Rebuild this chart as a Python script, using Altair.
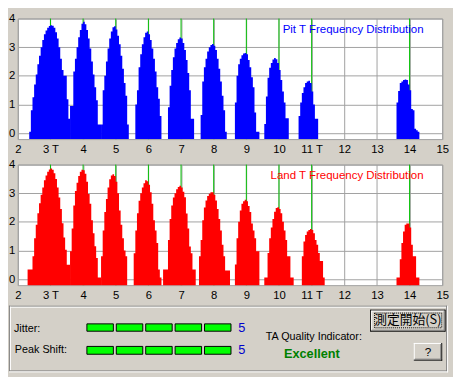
import altair as alt
import pandas as pd

# ---------------- data ----------------
BIN = 0.05  # histogram bin width in T

t_ticks = [2, 3, 4, 5, 6, 7, 8, 9, 10, 11, 12, 13, 14, 15]
t_suffixed = [3, 11]
t_run_lengths = [3, 4, 5, 6, 7, 8, 9, 10, 11, 14]
y_ticks = [0, 1, 2, 3, 4]

pit_starts = [2.35, 3.60, 4.55, 5.60, 6.60, 7.60, 8.65, 9.55, 10.60, 13.60]
pit_3t = [0.05, 0.8, 1.25, 1.7, 2.05, 2.4, 2.7, 3.0, 3.25, 3.45, 3.58, 3.68, 3.74, 3.77, 3.75, 3.68, 3.52, 3.3, 3.0, 2.6, 2.2, 2.0, 2.0, 1.18, 0.5]
pit_4t = [0.95, 0.95, 2.15, 2.6, 3.0, 3.35, 3.6, 3.82, 3.89, 3.8, 3.6, 3.3, 2.95, 2.5, 2.05, 1.6, 1.15, 0.3, 0.3]
pit_5t = [0.3, 1.5, 2.0, 2.5, 2.95, 3.3, 3.55, 3.7, 3.73, 3.62, 3.4, 3.1, 2.7, 2.25, 1.75, 1.3, 0.3]
pit_6t = [1.0, 1.5, 2.3, 2.75, 3.1, 3.35, 3.5, 3.55, 3.45, 3.25, 2.95, 2.6, 2.15, 1.6, 1.2, 0.6]
pit_7t = [0.9, 1.65, 2.2, 2.65, 2.95, 3.15, 3.28, 3.34, 3.3, 3.15, 2.9, 2.55, 2.1, 1.5, 0.5, 0.5]
pit_8t = [0.63, 1.8, 2.3, 2.6, 2.85, 3.0, 3.08, 3.11, 3.05, 2.9, 2.6, 2.25, 1.8, 1.3, 0.8, 0.05]
pit_9t = [1.07, 2.0, 2.4, 2.6, 2.72, 2.78, 2.8, 2.75, 2.55, 2.3, 1.95, 1.6, 0.72, 0.05, 0.05]
pit_10t = [0.32, 1.28, 1.93, 2.28, 2.45, 2.57, 2.62, 2.58, 2.45, 2.2, 1.85, 1.45, 1.07, 0.52, 0.52]
pit_11t = [0.6, 1.07, 1.4, 1.6, 1.75, 1.8, 1.83, 1.75, 1.45, 1.0, 0.5, 0.5]
pit_14t = [1.07, 1.47, 1.75, 1.8, 1.85, 1.87, 1.85, 1.7, 1.5, 0.84, 0.8, 0.15, 0.1, 0.05]

land_starts = [2.30, 3.60, 4.55, 5.55, 6.45, 7.55, 8.65, 9.55, 10.70, 13.60]
land_3t = [0.34, 0.34, 0.34, 0.8, 1.43, 1.9, 2.3, 2.65, 2.95, 3.2, 3.45, 3.62, 3.75, 3.83, 3.86, 3.82, 3.7, 3.5, 3.2, 2.85, 2.45, 1.95, 1.45, 1.03, 0.5, 0.5]
land_4t = [0.97, 1.77, 2.57, 3.08, 3.37, 3.6, 3.75, 3.82, 3.8, 3.68, 3.4, 2.97, 2.63, 2.06, 1.6, 1.15, 0.74, 0.06, 0.06]
land_5t = [0.8, 1.7, 2.34, 2.8, 3.2, 3.49, 3.62, 3.66, 3.6, 3.4, 3.0, 2.4, 1.9, 1.43, 1.0, 0.8]
land_6t = [0.9, 1.7, 2.3, 2.74, 3.0, 3.2, 3.35, 3.45, 3.42, 3.3, 3.03, 2.63, 2.06, 1.7, 1.26, 0.34, 0.06]
land_7t = [0.34, 0.34, 0.34, 1.37, 2.1, 2.57, 2.85, 3.0, 3.14, 3.22, 3.26, 3.2, 3.05, 2.86, 2.29, 1.77, 1.14, 0.9, 0.34, 0.34]
land_8t = [0.8, 1.37, 2.06, 2.5, 2.75, 2.9, 2.98, 3.03, 3.03, 2.95, 2.75, 2.45, 2.1, 1.7, 1.2, 0.8, 0.3, 0.3, 0.3]
land_9t = [0.51, 1.43, 2.0, 2.4, 2.63, 2.72, 2.77, 2.72, 2.55, 2.34, 1.94, 1.7, 1.43, 0.97, 0.97]
land_10t = [0.06, 0.06, 0.91, 1.43, 1.8, 2.1, 2.35, 2.48, 2.51, 2.45, 2.3, 2.0, 1.7, 1.37, 0.8, 0.8, 0.06, 0.06]
land_11t = [0.8, 1.31, 1.54, 1.66, 1.72, 1.75, 1.72, 1.6, 1.37, 1.2, 0.91, 0.63, 0.63, 0.06]
land_14t = [0.06, 0.06, 0.69, 1.26, 1.66, 1.9, 1.94, 1.94, 1.8, 1.2, 0.8, 0.8, 0.06, 0.06]

pit_title = "Pit T Frequency Distribution"
land_title = "Land T Frequency Distribution"

jitter_label = "Jitter:"
peak_label = "Peak Shift:"
jitter_score = 5
peak_shift_score = 5
score_max = 5
quality_label = "TA Quality Indicator:"
quality_value = "Excellent"
start_button = "測定開始(S)"
help_button = "?"

# ---------------- styling ----------------
BG = "#D4D0C8"
GRID = "#A0A0A0"
GREEN = "#00C000"
FONT = "Liberation Sans"
PW, PH = 433, 123


def hist_frame(starts, peaks):
    """Step outline per peak: each bin's left edge, plus the final right edge."""
    rows = []
    for k, (s, vals) in enumerate(zip(starts, peaks)):
        for i, v in enumerate(vals):
            rows.append({"peak": k, "t": round(s + i * BIN, 4), "v": v})
        rows.append({"peak": k, "t": round(s + len(vals) * BIN, 4), "v": vals[-1]})
    return pd.DataFrame(rows)


pit_df = hist_frame(pit_starts, [pit_3t, pit_4t, pit_5t, pit_6t, pit_7t, pit_8t, pit_9t, pit_10t, pit_11t, pit_14t])
land_df = hist_frame(land_starts, [land_3t, land_4t, land_5t, land_6t, land_7t, land_8t, land_9t, land_10t, land_11t, land_14t])

xs = alt.Scale(domain=[2, 15], nice=False, zero=False)
ys = alt.Scale(domain=[-0.21, 4], nice=False, zero=False)

label_expr = (" || ".join("datum.value == %d" % v for v in t_suffixed) +
              " ? datum.label + ' T' : datum.label")

x_axis = alt.Axis(values=t_ticks, grid=True, gridColor=GRID, gridOpacity=1, domain=False,
                  ticks=False, labels=True, labelPadding=5, labelFont=FONT, labelFontSize=11.5,
                  labelColor="black", title=None, labelExpr=label_expr, labelFlush=False,
                  labelOverlap=False, labelBound=False, format="d", orient="bottom")
y_axis = alt.Axis(values=y_ticks, grid=True, gridColor=GRID, gridOpacity=1, domain=False,
                  ticks=False, labelPadding=3, labelFont=FONT, labelFontSize=11.5,
                  labelColor="black", title=None, format="d")


def panel(df, color, title):
    rules = alt.Chart(pd.DataFrame({"t": t_run_lengths})).mark_rule(
        color=GREEN, strokeWidth=1).encode(x=alt.X("t:Q", scale=xs, axis=x_axis))
    hist = alt.Chart(df).mark_area(interpolate="step-after", color=color, opacity=1).encode(
        x=alt.X("t:Q", scale=xs, axis=x_axis),
        y=alt.Y("v:Q", scale=ys, axis=y_axis),
        y2=alt.datum(-0.21),
        detail="peak:N",
    )
    label = alt.Chart(pd.DataFrame({"s": [title]})).mark_text(
        align="right", baseline="middle", font=FONT, fontSize=11.7, color=color
    ).encode(text="s:N", x=alt.value(414), y=alt.value(11))
    return alt.layer(rules, hist, label).properties(
        width=PW, height=PH, view=alt.ViewBackground(fill="white", stroke=GRID))


top = panel(pit_df, "#0000FF", pit_title)
bottom = panel(land_df, "#FF0000", land_title)

# ---------------- control area (pixel-like scales) ----------------
CX = alt.Scale(domain=[18, 461], nice=False, zero=False)
CY = alt.Scale(domain=[312, 377], nice=False, zero=False, reverse=True)
CW, CH = 443, 65

lines = []


def hline(x1, x2, y, c):
    lines.append({"x": x1, "x2": x2, "y": y, "y2": y, "c": c})


def vline(x, y1, y2, c):
    lines.append({"x": x, "x2": x, "y": y1, "y2": y2, "c": c})


# etched group frame
hline(9, 456, 307.5, "#808080"); vline(9.5, 307, 374, "#808080")
hline(10, 455, 308.5, "white"); vline(10.5, 308, 373, "white")
hline(9, 456, 373.5, "#808080"); vline(455.5, 307, 374, "#808080")
hline(9, 457, 374.5, "white"); vline(456.5, 307, 375, "white")
# default button (start)
hline(378, 454, 311.5, "black"); hline(378, 454, 333, "black")
vline(378, 311, 333.5, "black"); vline(454, 311, 333.5, "black")
hline(379, 453, 312.5, "white"); vline(379, 312, 332, "white")
hline(379, 453, 332, "#808080"); vline(453, 312, 332.5, "#808080")
# help button
hline(422, 451, 345.5, "white"); vline(422.5, 345, 363, "white")
hline(422, 451, 362.5, "black"); vline(450.5, 345, 363, "black")
hline(423, 450, 361.5, "#808080"); vline(449.5, 346, 362, "#808080")
lines_df = pd.DataFrame(lines)

seg_rows = []
for score, ytop, ybot in [(jitter_score, 325.5, 333), (peak_shift_score, 348.5, 356.5)]:
    for i in range(score_max):
        x0 = 88.5 + i * 30
        seg_rows.append({"x": x0, "x2": x0 + 27, "y": ytop, "y2": ybot,
                         "fill": "#00FF00" if i < score else BG})
seg_df = pd.DataFrame(seg_rows)

focus_df = pd.DataFrame([{"x": 382, "x2": 450.5, "y": 314.5, "y2": 329.5}])

enc_xy = dict(x=alt.X("x:Q", scale=CX, axis=None), y=alt.Y("y:Q", scale=CY, axis=None))

line_layer = alt.Chart(lines_df).mark_rule(strokeWidth=1).encode(
    x2="x2:Q", y2="y2:Q", color=alt.Color("c:N", scale=None), **enc_xy)
seg_layer = alt.Chart(seg_df).mark_rect(stroke="black", strokeWidth=1).encode(
    x2="x2:Q", y2="y2:Q", fill=alt.Fill("fill:N", scale=None), **enc_xy)
focus_layer = alt.Chart(focus_df).mark_rect(
    fill="transparent", stroke="black", strokeWidth=1, strokeDash=[1, 1]).encode(
    x2="x2:Q", y2="y2:Q", **enc_xy)

labels_df = pd.DataFrame([
    {"x": 14, "y": 330.5, "s": jitter_label},
    {"x": 15, "y": 352.5, "s": peak_label},
    {"x": 271, "y": 339, "s": quality_label},
])
label_layer = alt.Chart(labels_df).mark_text(
    align="left", baseline="middle", font=FONT, fontSize=11, color="black").encode(
    text="s:N", **enc_xy)

scores_df = pd.DataFrame([
    {"x": 246.5, "y": 329.5, "s": str(jitter_score)},
    {"x": 246.5, "y": 352, "s": str(peak_shift_score)},
])
score_layer = alt.Chart(scores_df).mark_text(
    align="center", baseline="middle", font=FONT, fontSize=13, color="#0000CC").encode(
    text="s:N", **enc_xy)

quality_layer = alt.Chart(pd.DataFrame([{"x": 318, "y": 356, "s": quality_value}])).mark_text(
    align="center", baseline="middle", font=FONT, fontSize=13, fontWeight="bold",
    color="#008000").encode(text="s:N", **enc_xy)

btn_layer = alt.Chart(pd.DataFrame([{"x": 416, "y": 322, "s": start_button}])).mark_text(
    align="center", baseline="middle", font="Noto Sans CJK JP", fontSize=13,
    color="black").encode(text="s:N", **enc_xy)
help_layer = alt.Chart(pd.DataFrame([{"x": 436.5, "y": 354, "s": help_button}])).mark_text(
    align="center", baseline="middle", font=FONT, fontSize=12,
    color="black").encode(text="s:N", **enc_xy)

controls = alt.layer(line_layer, seg_layer, focus_layer, label_layer, score_layer,
                     quality_layer, btn_layer, help_layer).properties(
    width=CW, height=CH, view=alt.ViewBackground(fill=BG, stroke="transparent"))

chart = alt.vconcat(top, bottom, controls, spacing=26, bounds="flush").properties(
    padding=0, background=BG)

chart.save("out.html", embed_options={"renderer": "svg", "actions": False})
